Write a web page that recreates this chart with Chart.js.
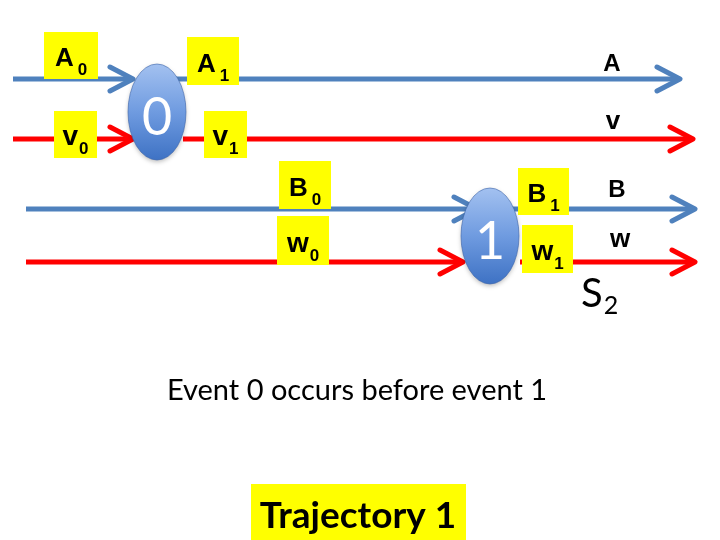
<!DOCTYPE html>
<html>
<head>
<meta charset="utf-8">
<script src="https://cdn.jsdelivr.net/npm/chart.js@4/dist/chart.umd.min.js"></script>
<style>
    html, body { margin: 0; padding: 0; background: #ffffff; }
    #wrap { width: 720px; height: 540px; position: relative; }
</style>
</head>
<body>
<div id="wrap"><canvas id="chart" width="720" height="540"></canvas></div>
<script>
// Diagram units: x 0..720 from left, y 0..540 from top (y axis reversed)
const trackNames = ['A', 'v', 'B', 'w'];
const trackY = [79, 139, 209, 262];
const trackKinds = ['blue', 'red', 'blue', 'red'];
// incoming segment (start -> arrow tip at event) and outgoing segment (event -> arrow tip)
const inStart = [13, 13, 26, 26];
const inTip = [133, 133, 477, 463];
const outStart = [170, 183, 508, 520];
const outTip = [680, 693, 695, 695];
const endLabelX = [612, 613, 617, 620];
const endLabelY = [71, 129, 197, 247];

const eventNames = ['0', '1'];
const eventX = [157, 490];
const eventY = [112, 236];

// yellow state boxes: main letter + subscript
const boxMain = ['A', 'A', 'v', 'v', 'B', 'B', 'w', 'w'];
const boxSub = ['0', '1', '0', '1', '0', '1', '0', '1'];
const boxLeft = [44, 187, 54, 204, 279, 518, 277, 522];
const boxRight = [98, 239, 97, 247, 331, 569, 329, 573];
const boxTop = [32, 37, 111, 111, 161, 168, 216, 225];
const boxBottom = [79, 85, 158, 158, 209, 215, 265, 273];

const captionText = 'Event 0 occurs before event 1';
const titleText = 'Trajectory 1';

const COLORS = { blue: '#4f81bd', red: '#ff0000' };
const ARROW_LEN = 23;
const ARROW_HALF = 12;
const BOLD_SANS = '"Liberation Sans", Arial, sans-serif';
const BODY_SANS = 'Lato, "Open Sans", sans-serif';

function buildDatasets() {
    const sets = [];
    trackNames.forEach((name, i) => {
        const y = trackY[i];
        const color = COLORS[trackKinds[i]];
        const base = {
            showLine: true,
            pointRadius: 0,
            borderColor: color,
            borderWidth: 5,
            borderCapStyle: 'butt',
            borderJoinStyle: 'round',
            fill: false,
            tension: 0
        };
        sets.push({ ...base, label: name + ' in', data: [{ x: inStart[i], y }, { x: inTip[i] - 2, y }] });
        sets.push({ ...base, label: name + ' out', data: [{ x: outStart[i], y }, { x: outTip[i] - 2, y }] });
        [inTip[i], outTip[i]].forEach(tip => {
            sets.push({
                ...base,
                label: name + ' head',
                borderCapStyle: 'round',
                data: [
                    { x: tip - ARROW_LEN, y: y - ARROW_HALF },
                    { x: tip, y },
                    { x: tip - ARROW_LEN, y: y + ARROW_HALF }
                ]
            });
        });
    });
    return sets;
}

const diagramPlugin = {
    id: 'diagram',
    afterDatasetsDraw(chart) {
        const ctx = chart.ctx;
        const sx = chart.scales.x;
        const sy = chart.scales.y;
        const px = v => sx.getPixelForValue(v);
        const py = v => sy.getPixelForValue(v);

        // event ellipses
        eventNames.forEach((name, i) => {
            const cx = px(eventX[i]);
            const cy = py(eventY[i]);
            const rx = Math.abs(px(eventX[i] + 29) - cx);
            const ry = Math.abs(py(eventY[i] + 48) - cy);
            ctx.save();
            ctx.shadowColor = 'rgba(0,0,0,0.25)';
            ctx.shadowBlur = 4;
            ctx.shadowOffsetY = 2;
            const grad = ctx.createLinearGradient(0, cy - ry, 0, cy + ry);
            grad.addColorStop(0, '#a3c1f0');
            grad.addColorStop(0.5, '#6f9be0');
            grad.addColorStop(1, '#3e72c4');
            ctx.beginPath();
            ctx.ellipse(cx, cy, rx, ry, 0, 0, Math.PI * 2);
            ctx.fillStyle = grad;
            ctx.fill();
            ctx.restore();
            ctx.save();
            ctx.strokeStyle = 'rgba(60,100,170,0.6)';
            ctx.lineWidth = 1;
            ctx.beginPath();
            ctx.ellipse(cx, cy, rx, ry, 0, 0, Math.PI * 2);
            ctx.stroke();
            ctx.fillStyle = '#ffffff';
            ctx.font = '52px ' + BODY_SANS;
            ctx.textAlign = 'center';
            ctx.textBaseline = 'middle';
            ctx.fillText(name, cx, cy + 6);
            ctx.restore();
        });

        // yellow state boxes
        boxMain.forEach((main, i) => {
            const x0 = px(boxLeft[i]), x1 = px(boxRight[i]);
            const y0 = py(boxTop[i]), y1 = py(boxBottom[i]);
            const lower = main !== main.toUpperCase();
            ctx.save();
            ctx.fillStyle = '#ffff00';
            ctx.fillRect(x0, y0, x1 - x0, y1 - y0);
            ctx.fillStyle = '#000000';
            ctx.textBaseline = 'alphabetic';
            ctx.textAlign = 'left';
            const mainFont = 'bold ' + (lower ? 28 : 26) + 'px ' + BOLD_SANS;
            const subFont = 'bold 17px ' + BOLD_SANS;
            ctx.font = mainFont;
            const mw = ctx.measureText(main).width;
            ctx.font = subFont;
            const sw = ctx.measureText(boxSub[i]).width;
            const gap = lower ? 1 : 4;
            const left = (x0 + x1) / 2 - (mw + gap + sw) / 2;
            ctx.font = mainFont;
            ctx.fillText(main, left, y1 - 13);
            ctx.font = subFont;
            ctx.fillText(boxSub[i], left + mw + gap, y1 - 4);
            ctx.restore();
        });

        // track end labels
        trackNames.forEach((name, i) => {
            const lower = name !== name.toUpperCase();
            ctx.save();
            ctx.fillStyle = '#000000';
            ctx.font = 'bold ' + (lower ? 26 : 24) + 'px ' + BOLD_SANS;
            ctx.textAlign = 'center';
            ctx.textBaseline = 'alphabetic';
            ctx.fillText(name, px(endLabelX[i]), py(endLabelY[i]));
            ctx.restore();
        });

        // S2
        ctx.save();
        ctx.fillStyle = '#000000';
        ctx.textBaseline = 'alphabetic';
        ctx.textAlign = 'left';
        ctx.font = '40px ' + BODY_SANS;
        ctx.fillText('S', px(581), py(307));
        const sW = ctx.measureText('S').width;
        ctx.font = '25px ' + BODY_SANS;
        ctx.fillText('2', px(581) + sW + 1, py(314));
        ctx.restore();

        // caption
        ctx.save();
        ctx.fillStyle = '#000000';
        ctx.font = '29px ' + BODY_SANS;
        ctx.textAlign = 'center';
        ctx.textBaseline = 'alphabetic';
        ctx.fillText(captionText, px(357), py(400));
        ctx.restore();

        // title box
        ctx.save();
        ctx.fillStyle = '#ffff00';
        ctx.fillRect(px(251), py(484), px(466) - px(251), py(540) - py(484));
        ctx.fillStyle = '#000000';
        ctx.font = 'bold 37px ' + BODY_SANS;
        ctx.textAlign = 'center';
        ctx.textBaseline = 'alphabetic';
        ctx.fillText(titleText, px(358), py(528));
        ctx.restore();
    }
};

new Chart(document.getElementById('chart'), {
    type: 'scatter',
    data: { datasets: buildDatasets() },
    options: {
        responsive: false,
        animation: false,
        devicePixelRatio: 1,
        layout: { padding: 0 },
        scales: {
            x: { type: 'linear', min: 0, max: 720, display: false },
            y: { type: 'linear', min: 0, max: 540, reverse: true, display: false }
        },
        plugins: {
            legend: { display: false },
            tooltip: { enabled: false }
        }
    },
    plugins: [diagramPlugin]
});
</script>
</body>
</html>
